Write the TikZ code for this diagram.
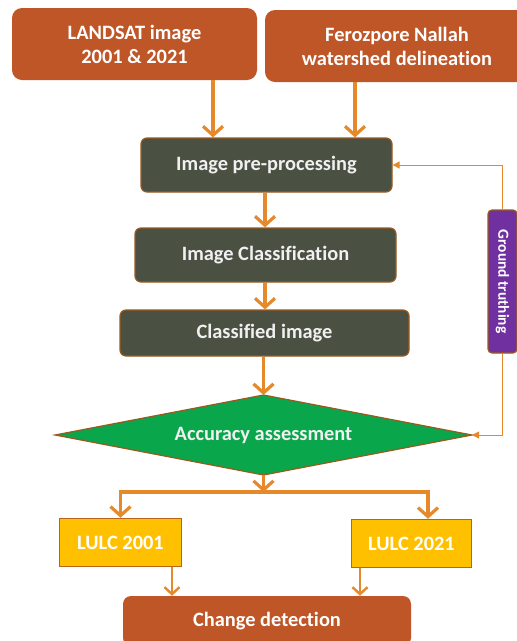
\documentclass[tikz,border=0pt]{standalone}
\usepackage{fontspec}
\setmainfont{Carlito}[Ligatures=NoCommon]
\usetikzlibrary{arrows.meta,calc}
\definecolor{brn}{HTML}{BF5628}
\definecolor{org}{HTML}{E6892A}
\definecolor{dk}{HTML}{4A5042}
\definecolor{dkb}{HTML}{9A5A1E}
\definecolor{grn}{HTML}{0AA64C}
\definecolor{gold}{HTML}{FFC000}
\definecolor{goldb}{HTML}{B8641C}
\definecolor{pur}{HTML}{7030A0}
\begin{document}
\begin{tikzpicture}[x=1pt,y=-1pt,
  txt/.style={text=white,font=\bfseries\fontsize{20.4}{24}\selectfont,align=center,inner sep=0pt},
  topbox/.style={txt,fill=brn,rounded corners=10pt,minimum height=72pt},
  dkbox/.style={txt,fill=dk,draw=dkb,line width=1.2pt,rounded corners=6pt,text=white!94!black},
  lulc/.style={txt,fill=gold,draw=goldb,line width=1.5pt,minimum width=122pt,minimum height=48pt},
  bigarr/.style={draw=org,line width=3.2pt,-{Straight Barb[length=9pt,width=20pt]}},
  midarr/.style={draw=org,line width=2.4pt,-{Straight Barb[length=7pt,width=15pt]}},
  thinarr/.style={draw=org,line width=1pt,-{Triangle[length=7pt,width=7pt]}}]
\useasboundingbox (0,0) rectangle (517,641);
\node[topbox,minimum width=245pt] (landsat) at (134.5,44) {LANDSAT image\\2001 \& 2021};
\node[topbox,minimum width=264pt] (feroz) at (397,46) {Ferozpore Nallah\\watershed delineation};
\node[dkbox,minimum width=251pt,minimum height=54pt] (pre) at (266.5,165) {Image pre-processing};
\node[dkbox,minimum width=261pt,minimum height=54pt] (cls) at (265.5,255) {Image Classification};
\node[dkbox,minimum width=289pt,minimum height=46pt] (cimg) at (264.5,333) {Classified image};
\coordinate (accT) at (263.5,395);
\coordinate (accB) at (263.5,475);
\coordinate (accL) at (55,435);
\coordinate (accR) at (472,435);
\fill[grn,draw=dkb,line width=1.2pt] (accT) -- (accR) -- (accB) -- (accL) -- cycle;
\node[txt,text=white!94!black] (acc) at (263.5,435) {Accuracy assessment};
\node[lulc] (l1) at (120.5,542.5) {LULC 2001};
\node[lulc,minimum width=120pt] (l2) at (411.5,543.5) {LULC 2021};
\node[txt,fill=brn,rounded corners=8pt,minimum width=288pt,minimum height=50pt] (chg) at (267,621) {Change detection};
\node[fill=pur,draw=dkb,line width=1.2pt,rounded corners=4pt,minimum width=29pt,minimum height=143pt,inner sep=0pt] (gt) at (502.5,281.5) {};
\node[text=white,font=\bfseries\fontsize{15.4}{17}\selectfont,rotate=-90,inner sep=0pt] (gtt) at (gt.center) {Ground truthing};
% main flow
\draw[bigarr] (landsat.south -| 213,0) -- (213,0 |- pre.north);
\draw[bigarr] (feroz.south -| 355,0) -- (355,0 |- pre.north);
\draw[bigarr] (pre.south -| 265,0) -- (265,0 |- cls.north);
\draw[bigarr] (cls.south -| 265,0) -- (265,0 |- cimg.north);
\draw[bigarr] (cimg.south -| accT) -- (accT);
\coordinate (br) at (263.5,492);
\draw[bigarr] (accB) -- (br);
\draw[bigarr] (br) -| (l1.north);
\draw[bigarr] (br) -| (428,0 |- l2.north);
\draw[midarr] (l1.south -| 172,0) -- (172,0 |- chg.north);
\draw[midarr] (l2.south -| 360,0) -- (360,0 |- chg.north);
% ground truthing
\draw[thinarr] (gt.north) |- (pre.east);
\draw[thinarr] (gt.south) |- (accR);
\end{tikzpicture}
\end{document}
